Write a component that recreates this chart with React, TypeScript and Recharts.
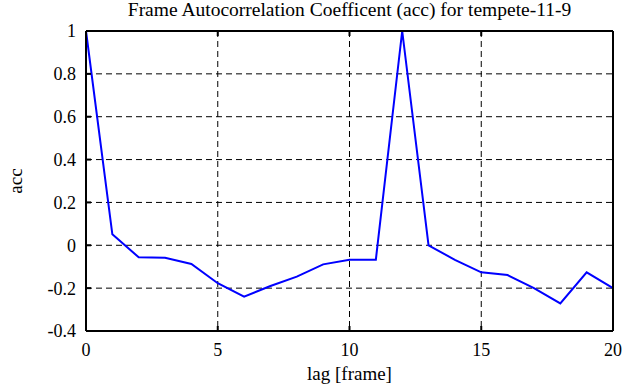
import React from "react";
import {
  LineChart,
  Line,
  XAxis,
  YAxis,
  CartesianGrid,
} from "recharts";

const lags = [0, 1, 2, 3, 4, 5, 6, 7, 8, 9, 10, 11, 12, 13, 14, 15, 16, 17, 18, 19, 20];
const accValues = [
  1.0, 0.051, -0.056, -0.058, -0.087, -0.177, -0.24, -0.19, -0.146, -0.089, -0.067,
  -0.067, 1.0, 0.0, -0.068, -0.126, -0.139, -0.2, -0.271, -0.126, -0.2,
];
const xTicks = [0, 5, 10, 15, 20];
const yTicks = [-0.4, -0.2, 0, 0.2, 0.4, 0.6, 0.8, 1];

const data = lags.map((lag, i) => ({ lag, acc: accValues[i] }));

const font = "'Liberation Serif', 'Times New Roman', serif";
const noLabel = () => "";

// serif tick labels; recharts ignores fontFamily on the default tick here
const BottomTick = (props: any) => (
  <text x={props.x} y={props.y} dy="0.71em" textAnchor="middle" fill="#000" fontSize={18} style={{ fontFamily: font }}>
    {props.payload.value}
  </text>
);

const LeftTick = (props: any) => (
  <text x={props.x} y={props.y} dy="0.355em" textAnchor="end" fill="#000" fontSize={18} style={{ fontFamily: font }}>
    {props.payload.value}
  </text>
);

export default function App() {
  return (
    <div style={{ position: "absolute", left: 0, top: 0, background: "#fff", fontFamily: font }}>
      <LineChart
        width={635}
        height={387}
        data={data}
        margin={{ top: 0, right: 0, bottom: 0, left: 0 }}
      >
        <CartesianGrid stroke="#000" strokeDasharray="6 4" strokeWidth={1} />
        <XAxis
          dataKey="lag"
          type="number"
          domain={[0, 20]}
          ticks={xTicks}
          height={56}
          stroke="#000"
          strokeWidth={2}
          tickSize={-5}
          tickMargin={17}
          tick={<BottomTick />}
          label={{
            value: "lag [frame]",
            position: "insideBottom",
            offset: 7,
            style: { fill: "#000", fontSize: 19, fontFamily: font },
          }}
        />
        <XAxis
          xAxisId="top"
          orientation="top"
          dataKey="lag"
          type="number"
          domain={[0, 20]}
          ticks={xTicks}
          height={31}
          stroke="#000"
          strokeWidth={2}
          tickSize={-5}
          tickFormatter={noLabel}
          label={{
            value: "Frame Autocorrelation Coefficent (acc) for tempete-11-9",
            position: "insideTop",
            offset: 2,
            style: { fill: "#000", fontSize: 19.5, fontFamily: font },
          }}
        />
        <YAxis
          type="number"
          domain={[-0.4, 1]}
          ticks={yTicks}
          width={86}
          stroke="#000"
          strokeWidth={2}
          tickSize={-5}
          tickMargin={15}
          tick={<LeftTick />}
          label={{
            value: "acc",
            angle: -90,
            position: "insideLeft",
            offset: 15,
            style: { fill: "#000", fontSize: 19, fontFamily: font, textAnchor: "middle" },
          }}
        />
        <YAxis
          yAxisId="right"
          orientation="right"
          type="number"
          domain={[-0.4, 1]}
          ticks={yTicks}
          width={22}
          stroke="#000"
          strokeWidth={2}
          tickSize={-5}
          tickFormatter={noLabel}
        />
        <Line
          type="linear"
          dataKey="acc"
          stroke="#0000ff"
          strokeWidth={2}
          dot={false}
          isAnimationActive={false}
        />
      </LineChart>
    </div>
  );
}
